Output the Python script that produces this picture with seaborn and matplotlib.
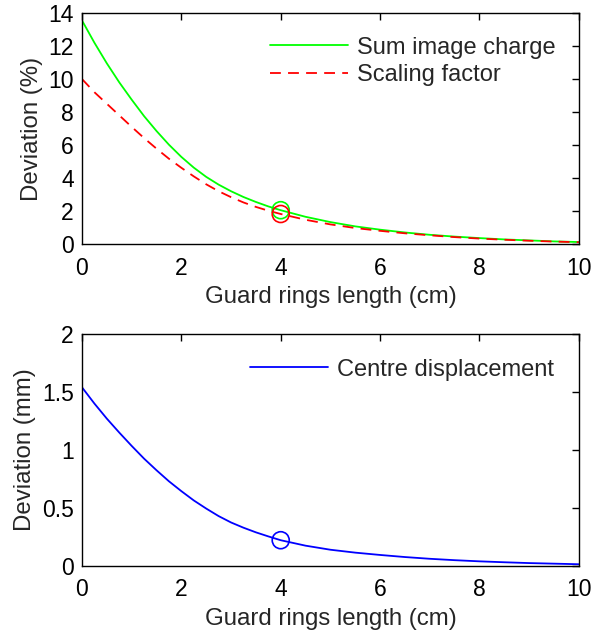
import numpy as np
import pandas as pd
import matplotlib
matplotlib.use("Agg")
import matplotlib.pyplot as plt
import seaborn as sns

# Guard ring length (cm): finer steps where the curves are steep
length_cm = [0, 0.25, 0.5, 0.75, 1, 1.25, 1.5, 1.75, 2, 2.25, 2.5, 2.75, 3, 3.25, 3.5, 3.75, 4,
             4.5, 5, 5.5, 6, 6.5, 7, 7.5, 8, 8.5, 9, 9.5, 10]

# Deviation (%) from the sum of image charges
sum_image_charge = [13.55, 12.2, 10.95, 9.8, 8.75, 7.75, 6.85, 6.02, 5.28, 4.63, 4.07, 3.6, 3.2,
                    2.85, 2.55, 2.28, 2.05,
                    1.65, 1.33, 1.07, 0.87, 0.7, 0.56, 0.45, 0.36, 0.28, 0.22, 0.16, 0.12]
# Deviation (%) of the scaling factor
scaling_factor = [10.0, 9.2, 8.5, 7.8, 7.1, 6.42, 5.78, 5.17, 4.62, 4.1, 3.62, 3.2, 2.84,
                  2.52, 2.25, 2.02, 1.82,
                  1.47, 1.19, 0.97, 0.8, 0.65, 0.53, 0.42, 0.33, 0.26, 0.2, 0.15, 0.11]
# Deviation (mm) of the centre position
centre_displacement = [1.54, 1.40, 1.27, 1.15, 1.035, 0.925, 0.825, 0.73, 0.645, 0.565, 0.495,
                       0.43, 0.375, 0.33, 0.29, 0.255, 0.222,
                       0.175, 0.14, 0.115, 0.095, 0.077, 0.062, 0.05, 0.04, 0.032, 0.025,
                       0.02, 0.015]

# Chosen guard ring length, highlighted on each curve
chosen_length = [4]
chosen_sum = [2.05]
chosen_scaling = [1.82]
chosen_centre = [0.222]

sns.set_theme(style="white")
plt.rcParams["font.family"] = ["Liberation Sans", "DejaVu Sans"]
plt.rcParams["axes.linewidth"] = 1.0
plt.rcParams["axes.edgecolor"] = "black"

TICK_FS = 16.5
LABEL_FS = 17.3
LEGEND_FS = 17.0

fig = plt.figure(figsize=(5.95, 6.35), dpi=100)
ax1 = fig.add_axes([0.1378, 0.6157, 0.835, 0.3638])
ax2 = fig.add_axes([0.1378, 0.1087, 0.835, 0.3654])

GREEN, RED, BLUE = "#00ff00", "#ff0000", "#0000ff"

df_top = pd.DataFrame({
    "length": length_cm * 2,
    "deviation": sum_image_charge + scaling_factor,
    "series": ["Sum image charge"] * len(length_cm) + ["Scaling factor"] * len(length_cm),
})
sns.lineplot(data=df_top, x="length", y="deviation", hue="series", style="series",
             palette={"Sum image charge": GREEN, "Scaling factor": RED},
             dashes={"Sum image charge": "", "Scaling factor": (6, 4)},
             linewidth=1.3, ax=ax1)
sns.scatterplot(x=chosen_length, y=chosen_sum, ax=ax1, s=150, marker="o",
                facecolor="none", edgecolor=GREEN, linewidth=1.2, legend=False, zorder=5)
sns.scatterplot(x=chosen_length, y=chosen_scaling, ax=ax1, s=150, marker="o",
                facecolor="none", edgecolor=RED, linewidth=1.2, legend=False, zorder=5)

df_bot = pd.DataFrame({
    "length": length_cm,
    "deviation": centre_displacement,
    "series": ["Centre displacement"] * len(length_cm),
})
sns.lineplot(data=df_bot, x="length", y="deviation", hue="series",
             palette={"Centre displacement": BLUE}, linewidth=1.3, ax=ax2)
sns.scatterplot(x=chosen_length, y=chosen_centre, ax=ax2, s=150, marker="o",
                facecolor="none", edgecolor=BLUE, linewidth=1.2, legend=False, zorder=5)

for ax, ymax, yticks, ylabel in [
    (ax1, 14, [0, 2, 4, 6, 8, 10, 12, 14], "Deviation (%)"),
    (ax2, 2, [0, 0.5, 1, 1.5, 2], "Deviation (mm)"),
]:
    ax.set_xlim(0, 10)
    ax.set_ylim(0, ymax)
    ax.set_xticks([0, 2, 4, 6, 8, 10])
    ax.set_yticks(yticks)
    if ymax == 2:
        ax.set_yticklabels(["0", "0.5", "1", "1.5", "2"])
    ax.set_xlabel("Guard rings length (cm)", fontsize=LABEL_FS, labelpad=5)
    ax.set_ylabel(ylabel, fontsize=LABEL_FS, labelpad=4)
    ax.tick_params(direction="in", length=5, width=1.0, top=True, right=True,
                   labelsize=TICK_FS, colors="black")
    ax.tick_params(axis="x", pad=9)
    ax.tick_params(axis="y", pad=6)
    for sp in ax.spines.values():
        sp.set_visible(True)
        sp.set_color("black")

ax1.legend(loc="upper right", frameon=False, handlelength=3.3, handletextpad=0.37,
           labelspacing=0.22, borderaxespad=0.6, fontsize=LEGEND_FS)
ax2.legend(loc="upper right", frameon=False, handlelength=3.3, handletextpad=0.37,
           borderaxespad=0.65, fontsize=LEGEND_FS)

fig.savefig("out.png", dpi=100, facecolor="white")
